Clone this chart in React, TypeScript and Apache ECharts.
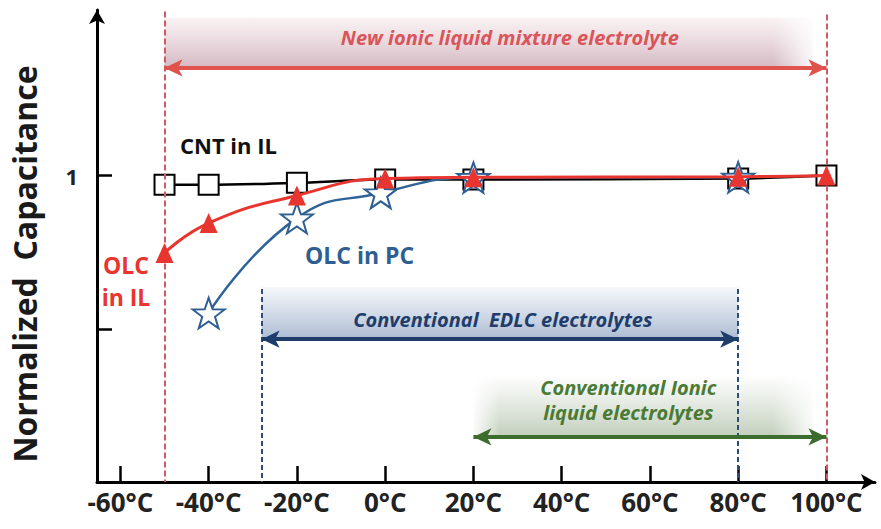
import React, { useEffect, useRef } from "react";
import * as echarts from "echarts";

// ---- data ----
const cntX = [-50, -40, -20, 0, 20, 80, 100];
const cntY = [0.97, 0.97, 0.976, 0.987, 0.987, 0.99, 1.0];
const ilX = [-50, -40, -20, 0, 20, 80, 100];
const ilY = [0.747, 0.845, 0.935, 0.99, 0.994, 0.996, 1.0];
const pcX = [-40, -20, -1, 20, 80];
const pcY = [0.551, 0.861, 0.943, 0.993, 0.994];
const xTicks = [-60, -40, -20, 0, 20, 40, 60, 80, 100];
const yTicks = [0.5, 1];
const yLabels = [1];

const STAR =
  "path://M50 0 L61.76 33.82 L97.55 34.55 L69.02 56.18 L79.39 90.45 L50 70 L20.61 90.45 L30.98 56.18 L2.45 34.55 L38.24 33.82 Z";

const FONT = "'Open Sans', 'DejaVu Sans', sans-serif";

const zip = (xs: number[], ys: number[]) => xs.map((x, i) => [x, ys[i]]);

export default function App() {
  const ref = useRef<HTMLDivElement>(null);
  useEffect(() => {
    if (!ref.current) return;
    const chart = echarts.init(ref.current, null, { renderer: "svg" });
    const vGrad = (top: string, bottom: string) =>
      new echarts.graphic.LinearGradient(0, 0, 0, 1, [
        { offset: 0, color: top },
        { offset: 1, color: bottom },
      ]);
    const hGrad = (l: string, r: string) =>
      new echarts.graphic.LinearGradient(0, 0, 1, 0, [
        { offset: 0, color: l },
        { offset: 1, color: r },
      ]);
    const option: any = {
      animation: false,
      backgroundColor: "#ffffff",
      grid: { left: 97, right: 6, top: 10, bottom: 47 },
      xAxis: {
        type: "value",
        min: -65.3,
        max: 111,
        splitLine: { show: false },
        axisLine: {
          onZero: false,
          lineStyle: { color: "#000", width: 3 },
          symbol: ["none", "arrow"],
          symbolSize: [12, 14],
        },
        axisTick: {
          inside: true,
          length: 16,
          customValues: xTicks,
          lineStyle: { color: "#000", width: 2.5 },
        },
        axisLabel: {
          customValues: xTicks,
          formatter: (v: number) => `${v}°C`,
          color: "#222",
          fontFamily: FONT,
          fontWeight: "bold",
          fontSize: 26,
          margin: 7,
        },
      },
      yAxis: {
        type: "value",
        min: 0,
        max: 1.54,
        splitLine: { show: false },
        name: "Normalized  Capacitance",
        nameLocation: "middle",
        nameRotate: 90,
        nameGap: 57,
        nameTextStyle: {
          fontFamily: FONT,
          fontWeight: "bold",
          fontSize: 32,
          color: "#1a1a1a",
          padding: [0, 36, 0, 0],
        },
        axisLine: {
          onZero: false,
          lineStyle: { color: "#000", width: 3 },
          symbol: ["none", "arrow"],
          symbolSize: [12, 14],
        },
        axisTick: {
          inside: true,
          length: 15,
          customValues: yTicks,
          lineStyle: { color: "#000", width: 2.5 },
        },
        axisLabel: {
          customValues: yLabels,
          color: "#222",
          fontFamily: FONT,
          fontWeight: "bold",
          fontSize: 22,
          margin: 19,
        },
      },
      graphic: [
        {
          type: "text",
          x: 180,
          y: 145,
          style: {
            text: "CNT in IL",
            fill: "#111",
            font: `bold 22px ${FONT}`,
            textAlign: "left",
            textVerticalAlign: "middle",
            align: "left",
            verticalAlign: "middle",
          },
        },
        {
          type: "text",
          x: 126,
          y: 281,
          style: {
            text: "OLC\nin IL",
            fill: "#e8352f",
            font: `bold 23px ${FONT}`,
            lineHeight: 32,
            textAlign: "center",
            textVerticalAlign: "middle",
            align: "center",
            verticalAlign: "middle",
          },
        },
        {
          type: "text",
          x: 305,
          y: 255,
          style: {
            text: "OLC in PC",
            fill: "#2f5f92",
            font: `bold 23px ${FONT}`,
            textAlign: "left",
            textVerticalAlign: "middle",
            align: "left",
            verticalAlign: "middle",
          },
        },
      ],
      series: [
        {
          type: "scatter",
          data: [],
          z: 1,
          silent: true,
          markArea: {
            silent: true,
            data: [
              [
                {
                  coord: [-50, 1.515],
                  itemStyle: { color: vGrad("rgba(246,236,238,0.7)", "rgba(210,180,190,0.95)") },
                  label: {
                    show: true,
                    position: "inside",
                    offset: [21, -5],
                    formatter: "New ionic liquid mixture electrolyte",
                    color: "#d9555a",
                    fontFamily: FONT,
                    fontStyle: "italic",
                    fontWeight: "bold",
                    fontSize: 20,
                  },
                },
                { coord: [97, 1.351] },
              ],
              [
                { coord: [88, 1.515], itemStyle: { color: hGrad("rgba(255,255,255,0)", "rgba(255,255,255,1)") } },
                { coord: [98, 1.351] },
              ],
              [
                {
                  coord: [-28, 0.636],
                  itemStyle: { color: vGrad("rgba(244,246,250,0.9)", "rgba(172,188,211,1)") },
                  label: {
                    show: true,
                    position: "inside",
                    offset: [3, 6],
                    formatter: "Conventional  EDLC electrolytes",
                    color: "#1f3d6b",
                    fontFamily: FONT,
                    fontStyle: "italic",
                    fontWeight: "bold",
                    fontSize: 20,
                  },
                },
                { coord: [80, 0.466] },
              ],
              [
                {
                  coord: [20, 0.35],
                  itemStyle: { color: vGrad("rgba(255,255,255,0.9)", "rgba(194,207,188,1)") },
                  label: {
                    show: true,
                    position: "inside",
                    offset: [-15, -6],
                    formatter: "Conventional Ionic\nliquid electrolytes",
                    lineHeight: 25,
                    color: "#4a7a34",
                    fontFamily: FONT,
                    fontStyle: "italic",
                    fontWeight: "bold",
                    fontSize: 20,
                  },
                },
                { coord: [97, 0.147] },
              ],
              [
                { coord: [19.5, 0.35], itemStyle: { color: hGrad("rgba(255,255,255,1)", "rgba(255,255,255,0)") } },
                { coord: [26, 0.147] },
              ],
              [
                { coord: [88, 0.35], itemStyle: { color: hGrad("rgba(255,255,255,0)", "rgba(255,255,255,1)") } },
                { coord: [98, 0.147] },
              ],
            ],
          },
          markLine: {
            silent: true,
            symbol: ["none", "none"],
            label: { show: false },
            data: [
              [
                { coord: [-50, 1.535], lineStyle: { color: "#cf5a66", width: 2, type: [6, 3] } },
                { coord: [-50, 0] },
              ],
              [
                { coord: [100, 1.525], lineStyle: { color: "#cf5a66", width: 2, type: [6, 3] } },
                { coord: [100, 0] },
              ],
              [
                { coord: [-28, 0.63], lineStyle: { color: "#2a4f7c", width: 2, type: [5, 3] } },
                { coord: [-28, 0] },
              ],
              [
                { coord: [80, 0.63], lineStyle: { color: "#2a4f7c", width: 2, type: [5, 3] } },
                { coord: [80, 0] },
              ],
              [
                {
                  coord: [-50, 1.351],
                  symbol: "arrow",
                  symbolSize: [13, 18],
                  lineStyle: { color: "#e0524c", width: 4, type: "solid" },
                },
                { coord: [100, 1.351], symbol: "arrow", symbolSize: [13, 18] },
              ],
              [
                {
                  coord: [-28, 0.466],
                  symbol: "arrow",
                  symbolSize: [13, 18],
                  lineStyle: { color: "#1e3d6b", width: 4, type: "solid" },
                },
                { coord: [80, 0.466], symbol: "arrow", symbolSize: [13, 18] },
              ],
              [
                {
                  coord: [20, 0.147],
                  symbol: "arrow",
                  symbolSize: [13, 18],
                  lineStyle: { color: "#3c6d2c", width: 4, type: "solid" },
                },
                { coord: [100, 0.147], symbol: "arrow", symbolSize: [13, 18] },
              ],
            ],
          },
        },
        {
          name: "CNT in IL",
          type: "line",
          z: 3,
          data: zip(cntX, cntY),
          smooth: 0.3,
          symbol: "rect",
          symbolSize: 20,
          lineStyle: { color: "#000", width: 2.5 },
          itemStyle: { color: "#fff", borderColor: "#000", borderWidth: 2 },
        },
        {
          name: "OLC in PC",
          type: "line",
          z: 4,
          data: zip(pcX, pcY),
          smooth: 0.5,
          symbol: STAR,
          symbolKeepAspect: true,
          symbolSize: 32,
          lineStyle: { color: "#2f6296", width: 2.5 },
          itemStyle: { color: "#fff", borderColor: "#2f5f92", borderWidth: 2 },
        },
        {
          name: "OLC in IL",
          type: "line",
          z: 5,
          data: zip(ilX, ilY),
          smooth: 0.5,
          symbol: "triangle",
          symbolSize: [18, 20],
          lineStyle: { color: "#e8352f", width: 3 },
          itemStyle: { color: "#e8352f", borderWidth: 0 },
        },
      ],
    };
    chart.setOption(option);
    return () => chart.dispose();
  }, []);
  return (
    <div
      ref={ref}
      style={{ position: "fixed", left: 0, top: 0, width: 881, height: 529, background: "#fff" }}
    />
  );
}
